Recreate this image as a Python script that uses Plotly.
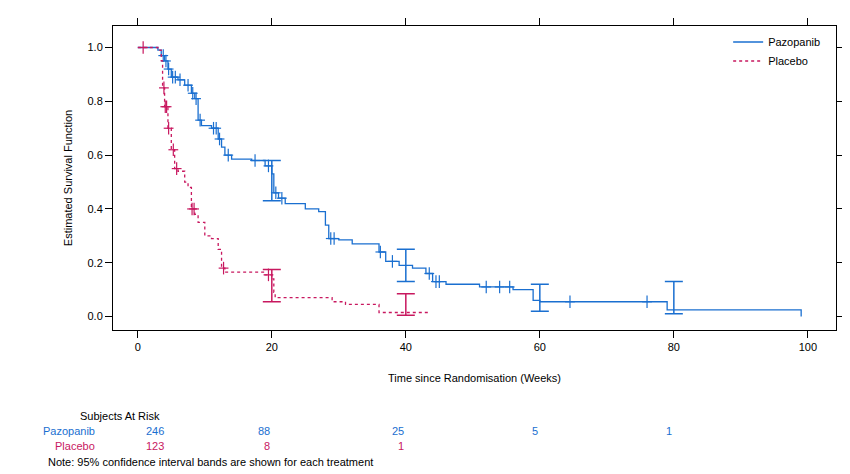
import plotly.graph_objects as go

# Kaplan-Meier step points (time in weeks, survival)
paz_t = [0, 3, 3.5, 4, 4.5, 5, 6, 7, 8, 8.5, 9, 9.5, 11, 12, 12.5, 13, 14, 17, 19, 20, 20.3, 21, 22, 25, 27, 28,
         28.5, 30, 32, 36, 37, 39, 41, 43, 44, 46, 51, 56, 59, 60, 78, 79, 99, 99]
paz_s = [1.0, 0.99, 0.97, 0.95, 0.92, 0.89, 0.88, 0.86, 0.83, 0.81, 0.73, 0.71, 0.70, 0.66, 0.63, 0.60, 0.585, 0.58,
         0.56, 0.53, 0.46, 0.44, 0.42, 0.40, 0.39, 0.34, 0.29, 0.285, 0.27, 0.24, 0.205, 0.19, 0.18, 0.16, 0.13, 0.12,
         0.11, 0.10, 0.06, 0.055, 0.055, 0.025, 0.025, 0.0]
pla_t = [0, 3, 3.5, 3.7, 4, 4.5, 5, 5.5, 6, 7, 7.5, 8, 8.5, 9, 10, 11, 12, 12.5, 13, 19, 20, 20.3, 20.5, 28, 29,
         31, 35, 36, 43.5]
pla_s = [1.0, 0.99, 0.95, 0.85, 0.78, 0.70, 0.62, 0.55, 0.54, 0.50, 0.48, 0.40, 0.38, 0.35, 0.30, 0.29, 0.25, 0.18,
         0.165, 0.155, 0.14, 0.09, 0.07, 0.07, 0.055, 0.045, 0.045, 0.015, 0.015]

# censoring times
paz_cens = [3.8, 4.2, 4.6, 5.2, 5.6, 6.3, 7.5, 8.2, 8.7, 9.3, 11.3, 11.7, 12.2, 13.5, 17.5, 19.5, 20.6, 21.5,
            28.8, 29.3, 36.2, 38, 43.5, 44.5, 45, 52, 54, 55.5, 64.5, 76]
pla_cens = [0.8, 3.9, 4.1, 4.3, 4.6, 5.3, 5.8, 8.1, 8.4, 12.8, 19.5]

# 95% CI at selected times
paz_ci_t = [20, 40, 60, 80]
paz_ci_lo = [0.43, 0.13, 0.02, 0.01]
paz_ci_hi = [0.58, 0.25, 0.12, 0.13]
pla_ci_t = [20, 40]
pla_ci_lo = [0.055, 0.005]
pla_ci_hi = [0.175, 0.085]

# subjects at risk
risk_t = [0, 20, 40, 60, 80]
paz_risk = ["246", "88", "25", "5", "1"]
pla_risk = ["123", "8", "1"]

BLUE = "#1a6fd0"
PINK = "#c8185f"
FS = 11


def surv_at(ts, ss, t):
    val = ss[0]
    for a, b in zip(ts, ss):
        if a <= t:
            val = b
    return val


fig = go.Figure()
for ts, ss, cens, col, dash, name in [(paz_t, paz_s, paz_cens, BLUE, "solid", "Pazopanib"),
                                       (pla_t, pla_s, pla_cens, PINK, "dot", "Placebo")]:
    fig.add_trace(go.Scatter(x=ts, y=ss, mode="lines", line=dict(color=col, width=1.3, dash=dash, shape="hv"),
                             name=name))
    ys = [surv_at(ts, ss, c) for c in cens]
    fig.add_trace(go.Scatter(x=cens, y=ys, mode="markers",
                             marker=dict(symbol="line-ns-open", size=9, color=col, line=dict(width=1.2, color=col)),
                             showlegend=False, hoverinfo="skip"))
    fig.add_trace(go.Scatter(x=cens, y=ys, mode="markers",
                             marker=dict(symbol="line-ew-open", size=7, color=col, line=dict(width=1.2, color=col)),
                             showlegend=False, hoverinfo="skip"))

for cts, lo, hi, col in [(paz_ci_t, paz_ci_lo, paz_ci_hi, BLUE), (pla_ci_t, pla_ci_lo, pla_ci_hi, PINK)]:
    fig.add_trace(go.Scatter(x=cts, y=[(a + b) / 2 for a, b in zip(lo, hi)], mode="markers",
                             marker=dict(size=0.1, color=col),
                             error_y=dict(type="data", symmetric=True, array=[(b - a) / 2 for a, b in zip(lo, hi)],
                                          color=col, thickness=1.5, width=9),
                             showlegend=False, hoverinfo="skip"))

ann = [dict(text="Subjects At Risk", x=70, y=408, xanchor="left")]
ann.append(dict(text="Pazopanib", x=89, y=423, xanchor="right", color=BLUE))
ann.append(dict(text="Placebo", x=89, y=438, xanchor="right", color=PINK))
ann.append(dict(text="Note: 95% confidence interval bands are shown for each treatment", x=38, y=454, xanchor="left"))
annotations = []
for a in ann:
    annotations.append(dict(text=a["text"], xref="paper", yref="paper", x=(a["x"] - 105) / 723,
                            y=(322 - a["y"]) / 304, xanchor=a["xanchor"], yanchor="middle", showarrow=False,
                            font=dict(size=FS, color=a.get("color", "black"))))
for row, vals, col in [(423, paz_risk, BLUE), (438, pla_risk, PINK)]:
    for t, v in zip(risk_t, vals):
        annotations.append(dict(text=v, xref="x", yref="paper", x=t if t else 4.2, y=(322 - row) / 304,
                                xanchor="right", yanchor="middle", showarrow=False,
                                font=dict(size=FS, color=col)))

axis_common = dict(showgrid=False, zeroline=False, showline=True, linecolor="black", linewidth=1, mirror="ticks",
                   ticks="outside", ticklen=7, tickcolor="black", tickfont=dict(size=FS, color="black"),
                   automargin=False)
fig.update_layout(
    width=850, height=474, margin=dict(l=105, r=22, t=18, b=152),
    plot_bgcolor="white", paper_bgcolor="white",
    font=dict(family="Liberation Sans, Arial", size=FS, color="black"),
    xaxis=dict(range=[-3.7, 104.2], tickvals=[0, 20, 40, 60, 80, 100],
               title=dict(text="Time since Randomisation (Weeks)", standoff=22, font=dict(size=FS)), **axis_common),
    yaxis=dict(range=[-0.05, 1.08], tickvals=[0, 0.2, 0.4, 0.6, 0.8, 1.0], tickformat=".1f",
               title=dict(text="Estimated Survival Function", standoff=12, font=dict(size=FS)), **axis_common),
    legend=dict(x=0.985, y=0.995, xanchor="right", yanchor="top", bgcolor="rgba(0,0,0,0)",
                font=dict(size=FS), tracegroupgap=0),
    annotations=annotations,
)
fig.write_html("out.html")
